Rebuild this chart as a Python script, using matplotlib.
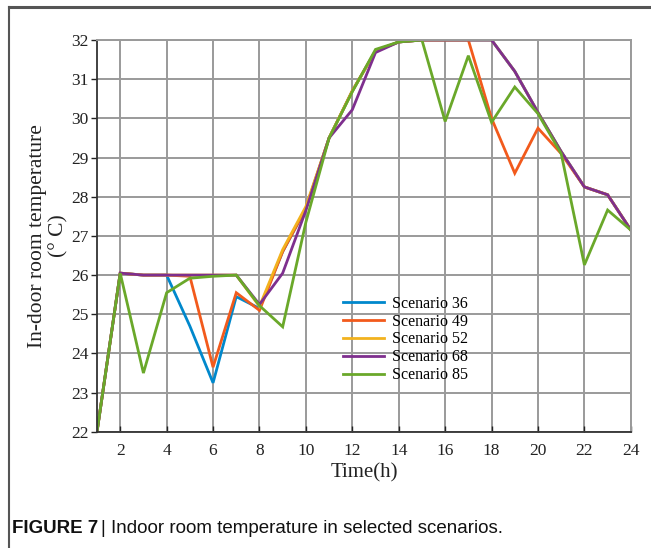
import numpy as np
import matplotlib
matplotlib.use('Agg')
import matplotlib.pyplot as plt
from matplotlib.lines import Line2D

hours = list(range(1, 25))
s36 = [22.0, 26.05, 26.0, 26.0, 24.7, 23.25, 25.45, 25.15, 26.6, 27.7, 29.5, 30.7,
       31.72, 31.95, 32.0, 32.0, 32.0, 32.0, 31.2, 30.15, 29.15, 28.25, 28.05, 27.15]
s49 = [22.0, 26.05, 26.0, 26.0, 25.97, 23.65, 25.55, 25.1, 26.6, 27.7, 29.5, 30.7,
       31.72, 31.95, 32.0, 32.0, 32.0, 30.0, 28.6, 29.75, 29.1, 28.25, 28.05, 27.15]
s52 = [22.0, 26.05, 26.0, 26.0, 26.0, 26.0, 26.0, 25.2, 26.65, 27.75, 29.5, 30.7,
       31.72, 31.95, 32.0, 32.0, 32.0, 32.0, 31.2, 30.15, 29.15, 28.25, 28.05, 27.15]
s68 = [22.0, 26.05, 26.0, 26.0, 26.0, 26.0, 26.0, 25.25, 26.05, 27.65, 29.5, 30.22,
       31.68, 31.95, 32.0, 32.0, 32.0, 32.0, 31.2, 30.15, 29.15, 28.25, 28.05, 27.15]
s85 = [22.0, 26.05, 23.5, 25.55, 25.92, 25.97, 26.0, 25.22, 24.68, 27.35, 29.5, 30.68,
       31.76, 31.95, 32.0, 29.92, 31.6, 29.9, 30.8, 30.12, 29.1, 26.26, 27.66, 27.15]
labels = ['Scenario 36', 'Scenario 49', 'Scenario 52', 'Scenario 68', 'Scenario 85']
colors = ['#0088cc', '#f25a1c', '#f2b21e', '#7e2f8e', '#6aa82a']

plt.rcParams['font.family'] = ['Liberation Serif', 'DejaVu Serif']

fig = plt.figure(figsize=(6.51, 5.48), dpi=100)
ax = fig.add_axes([0.149, 0.212, 0.82, 0.715])

for series, lab, col in zip([s36, s49, s52, s68, s85], labels, colors):
    ax.plot(hours, series, color=col, lw=2.0, label=lab, solid_joinstyle='miter')

ax.set_xlim(1, 24)
ax.set_ylim(22, 32)
ax.set_xticks(range(2, 25, 2))
ax.set_yticks(range(22, 33))
ax.grid(True, color='#9a9a9a', lw=1.4)
ax.set_axisbelow(True)
ax.tick_params(axis='both', labelsize=12.5, colors='#222222', length=4, width=1)
ax.tick_params(axis='x', direction='in', pad=8)
ax.tick_params(axis='y', direction='out', pad=2)
for side in ['top', 'right']:
    ax.spines[side].set_color('#9a9a9a')
    ax.spines[side].set_linewidth(1.4)
for side in ['left', 'bottom']:
    ax.spines[side].set_color('#333333')
    ax.spines[side].set_linewidth(1.3)

ax.set_xlabel('Time(h)', fontsize=15, labelpad=3, color='#222222')
ax.set_ylabel('In-door room temperature\n(° C)', fontsize=15.5, labelpad=2,
              color='#222222', linespacing=1.15)

leg = ax.legend(loc='upper left', bbox_to_anchor=(0.445, 0.368), frameon=False,
                fontsize=11.5, handlelength=2.6, handletextpad=0.5,
                labelspacing=0.12, borderpad=0)

fig.text(0.018, 0.028, 'FIGURE 7', fontsize=13.5, fontweight='bold',
         family='Liberation Sans', color='#111111')
fig.text(0.155, 0.028, '| Indoor room temperature in selected scenarios.',
         fontsize=13.5, family='Liberation Sans', color='#111111')

fig.add_artist(Line2D([0.014, 1.0], [0.987, 0.987], color='#555555', lw=2.2))
fig.add_artist(Line2D([0.014, 0.014], [0.0, 0.987], color='#555555', lw=1.5))

fig.savefig('out.png', dpi=100)
